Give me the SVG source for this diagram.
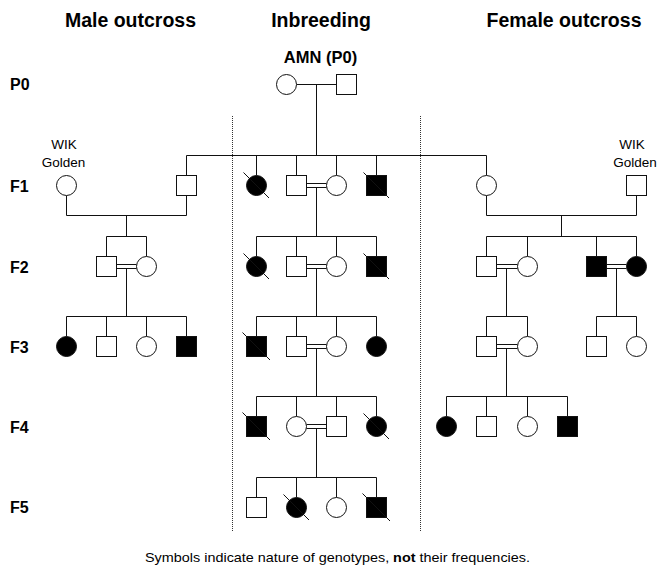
<svg xmlns="http://www.w3.org/2000/svg" width="658" height="569" viewBox="0 0 658 569">
<style>
  .bg{fill:#fff}
  .hdr{font-family:"Liberation Sans",Arial,sans-serif;font-weight:bold;font-size:19.5px;fill:#000;text-anchor:middle}
  .row{font-family:"Liberation Sans",Arial,sans-serif;font-weight:bold;font-size:16px;fill:#000}
  .amn{font-family:"Liberation Sans",Arial,sans-serif;font-weight:bold;font-size:16.5px;fill:#000;text-anchor:middle}
  .lbl{font-family:"Liberation Sans",Arial,sans-serif;font-size:13.5px;fill:#000;text-anchor:middle}
  .note{font-family:"Liberation Sans",Arial,sans-serif;font-size:13.5px;fill:#000;text-anchor:middle}
  .u{fill:#fff;stroke:#111;stroke-width:1}
  .a{fill:#000;stroke:#111;stroke-width:1}
  .sl{stroke:#111;stroke-width:1}
  .ln{stroke:#111;stroke-width:1;fill:none}
  .dot{stroke:#333;stroke-width:1;stroke-dasharray:1 1;fill:none}
</style>
<rect class="bg" x="0" y="0" width="658" height="569"/>

<g id="headers">
  <text class="hdr" x="130.5" y="26.5">Male outcross</text>
  <text class="hdr" x="321" y="26.5">Inbreeding</text>
  <text class="hdr" x="564" y="26.5">Female outcross</text>
</g>
<g id="row-labels">
  <text class="row" x="10" y="90">P0</text>
  <text class="row" x="10" y="191.5">F1</text>
  <text class="row" x="10" y="272.5">F2</text>
  <text class="row" x="10" y="352.5">F3</text>
  <text class="row" x="10" y="432.5">F4</text>
  <text class="row" x="10" y="513">F5</text>
</g>
<g id="dividers">
  <line class="dot" x1="232.5" y1="116" x2="232.5" y2="532"/>
  <line class="dot" x1="420.5" y1="116" x2="420.5" y2="532"/>
</g>

<g id="connectors">
  <line class="ln" x1="296.5" y1="84.5" x2="336.5" y2="84.5"/>
  <line class="ln" x1="316.5" y1="84.5" x2="316.5" y2="155.5"/>
  <line class="ln" x1="186.5" y1="155.5" x2="486.5" y2="155.5"/>
  <line class="ln" x1="186.5" y1="155.5" x2="186.5" y2="175.5"/>
  <line class="ln" x1="256.5" y1="155.5" x2="256.5" y2="175.5"/>
  <line class="ln" x1="296.5" y1="155.5" x2="296.5" y2="175.5"/>
  <line class="ln" x1="336.5" y1="155.5" x2="336.5" y2="175.5"/>
  <line class="ln" x1="376.5" y1="155.5" x2="376.5" y2="175.5"/>
  <line class="ln" x1="486.5" y1="155.5" x2="486.5" y2="175.5"/>

  <line class="ln" x1="66.5" y1="195.5" x2="66.5" y2="215.5"/>
  <line class="ln" x1="186.5" y1="195.5" x2="186.5" y2="215.5"/>
  <line class="ln" x1="66.5" y1="215.5" x2="186.5" y2="215.5"/>
  <line class="ln" x1="126.5" y1="215.5" x2="126.5" y2="236.5"/>
  <line class="ln" x1="106.5" y1="236.5" x2="146.5" y2="236.5"/>
  <line class="ln" x1="106.5" y1="236.5" x2="106.5" y2="256.5"/>
  <line class="ln" x1="146.5" y1="236.5" x2="146.5" y2="256.5"/>
  <line class="ln" x1="116.5" y1="264.5" x2="136.5" y2="264.5"/>
  <line class="ln" x1="116.5" y1="268.5" x2="136.5" y2="268.5"/>
  <line class="ln" x1="126.5" y1="268.5" x2="126.5" y2="316.5"/>
  <line class="ln" x1="66.5" y1="316.5" x2="186.5" y2="316.5"/>
  <line class="ln" x1="66.5" y1="316.5" x2="66.5" y2="336.5"/>
  <line class="ln" x1="106.5" y1="316.5" x2="106.5" y2="336.5"/>
  <line class="ln" x1="146.5" y1="316.5" x2="146.5" y2="336.5"/>
  <line class="ln" x1="186.5" y1="316.5" x2="186.5" y2="336.5"/>

  <line class="ln" x1="306.5" y1="183.5" x2="326.5" y2="183.5"/>
  <line class="ln" x1="306.5" y1="187.5" x2="326.5" y2="187.5"/>
  <line class="ln" x1="316.5" y1="187.5" x2="316.5" y2="236.5"/>
  <line class="ln" x1="256.5" y1="236.5" x2="376.5" y2="236.5"/>
  <line class="ln" x1="256.5" y1="236.5" x2="256.5" y2="256.5"/>
  <line class="ln" x1="296.5" y1="236.5" x2="296.5" y2="256.5"/>
  <line class="ln" x1="336.5" y1="236.5" x2="336.5" y2="256.5"/>
  <line class="ln" x1="376.5" y1="236.5" x2="376.5" y2="256.5"/>
  <line class="ln" x1="306.5" y1="264.5" x2="326.5" y2="264.5"/>
  <line class="ln" x1="306.5" y1="268.5" x2="326.5" y2="268.5"/>
  <line class="ln" x1="316.5" y1="268.5" x2="316.5" y2="316.5"/>
  <line class="ln" x1="256.5" y1="316.5" x2="376.5" y2="316.5"/>
  <line class="ln" x1="256.5" y1="316.5" x2="256.5" y2="336.5"/>
  <line class="ln" x1="296.5" y1="316.5" x2="296.5" y2="336.5"/>
  <line class="ln" x1="336.5" y1="316.5" x2="336.5" y2="336.5"/>
  <line class="ln" x1="376.5" y1="316.5" x2="376.5" y2="336.5"/>
  <line class="ln" x1="306.5" y1="344.5" x2="326.5" y2="344.5"/>
  <line class="ln" x1="306.5" y1="348.5" x2="326.5" y2="348.5"/>
  <line class="ln" x1="316.5" y1="348.5" x2="316.5" y2="396.5"/>
  <line class="ln" x1="256.5" y1="396.5" x2="376.5" y2="396.5"/>
  <line class="ln" x1="256.5" y1="396.5" x2="256.5" y2="416.5"/>
  <line class="ln" x1="296.5" y1="396.5" x2="296.5" y2="416.5"/>
  <line class="ln" x1="336.5" y1="396.5" x2="336.5" y2="416.5"/>
  <line class="ln" x1="376.5" y1="396.5" x2="376.5" y2="416.5"/>
  <line class="ln" x1="306.5" y1="424.5" x2="326.5" y2="424.5"/>
  <line class="ln" x1="306.5" y1="428.5" x2="326.5" y2="428.5"/>
  <line class="ln" x1="316.5" y1="428.5" x2="316.5" y2="477.5"/>
  <line class="ln" x1="256.5" y1="477.5" x2="376.5" y2="477.5"/>
  <line class="ln" x1="256.5" y1="477.5" x2="256.5" y2="497.5"/>
  <line class="ln" x1="296.5" y1="477.5" x2="296.5" y2="497.5"/>
  <line class="ln" x1="336.5" y1="477.5" x2="336.5" y2="497.5"/>
  <line class="ln" x1="376.5" y1="477.5" x2="376.5" y2="497.5"/>

  <line class="ln" x1="486.5" y1="195.5" x2="486.5" y2="215.5"/>
  <line class="ln" x1="636.5" y1="195.5" x2="636.5" y2="215.5"/>
  <line class="ln" x1="486.5" y1="215.5" x2="636.5" y2="215.5"/>
  <line class="ln" x1="561.5" y1="215.5" x2="561.5" y2="236.5"/>
  <line class="ln" x1="486.5" y1="236.5" x2="636.5" y2="236.5"/>
  <line class="ln" x1="486.5" y1="236.5" x2="486.5" y2="256.5"/>
  <line class="ln" x1="527.5" y1="236.5" x2="527.5" y2="256.5"/>
  <line class="ln" x1="596.5" y1="236.5" x2="596.5" y2="256.5"/>
  <line class="ln" x1="636.5" y1="236.5" x2="636.5" y2="256.5"/>
  <line class="ln" x1="496.5" y1="264.5" x2="517.5" y2="264.5"/>
  <line class="ln" x1="496.5" y1="268.5" x2="517.5" y2="268.5"/>
  <line class="ln" x1="506.5" y1="268.5" x2="506.5" y2="316.5"/>
  <line class="ln" x1="486.5" y1="316.5" x2="527.5" y2="316.5"/>
  <line class="ln" x1="486.5" y1="316.5" x2="486.5" y2="336.5"/>
  <line class="ln" x1="527.5" y1="316.5" x2="527.5" y2="336.5"/>
  <line class="ln" x1="606.5" y1="264.5" x2="626.5" y2="264.5"/>
  <line class="ln" x1="606.5" y1="268.5" x2="626.5" y2="268.5"/>
  <line class="ln" x1="616.5" y1="268.5" x2="616.5" y2="316.5"/>
  <line class="ln" x1="596.5" y1="316.5" x2="636.5" y2="316.5"/>
  <line class="ln" x1="596.5" y1="316.5" x2="596.5" y2="336.5"/>
  <line class="ln" x1="636.5" y1="316.5" x2="636.5" y2="336.5"/>
  <line class="ln" x1="496.5" y1="344.5" x2="517.5" y2="344.5"/>
  <line class="ln" x1="496.5" y1="348.5" x2="517.5" y2="348.5"/>
  <line class="ln" x1="506.5" y1="348.5" x2="506.5" y2="396.5"/>
  <line class="ln" x1="446.5" y1="396.5" x2="567.5" y2="396.5"/>
  <line class="ln" x1="446.5" y1="396.5" x2="446.5" y2="416.5"/>
  <line class="ln" x1="486.5" y1="396.5" x2="486.5" y2="416.5"/>
  <line class="ln" x1="527.5" y1="396.5" x2="527.5" y2="416.5"/>
  <line class="ln" x1="567.5" y1="396.5" x2="567.5" y2="416.5"/>
</g>

<g id="amn-label"><text class="amn" x="320.5" y="63">AMN (P0)</text></g>
<g id="p0-female"><circle class="u" cx="286.5" cy="84.5" r="10"/></g>
<g id="p0-male"><rect class="u" x="336.5" y="74.5" width="20" height="20"/></g>

<g id="m-f1-wik"><text class="lbl" x="64" y="148.5">WIK</text><text class="lbl" x="63.5" y="166.5">Golden</text><circle class="u" cx="66.5" cy="185.5" r="10"/></g>
<g id="m-f1-male"><rect class="u" x="176.5" y="175.5" width="20" height="20"/></g>
<g id="m-f2-male"><rect class="u" x="96.5" y="256.5" width="20" height="20"/></g>
<g id="m-f2-female"><circle class="u" cx="146.5" cy="266.5" r="10"/></g>
<g id="m-f3-1"><circle class="a" cx="66.5" cy="346.5" r="10"/></g>
<g id="m-f3-2"><rect class="u" x="96.5" y="336.5" width="20" height="20"/></g>
<g id="m-f3-3"><circle class="u" cx="146.5" cy="346.5" r="10"/></g>
<g id="m-f3-4"><rect class="a" x="176.5" y="336.5" width="20" height="20"/></g>

<g id="i-f1-1"><circle class="a" cx="256.5" cy="185.5" r="10"/><line class="sl" x1="243.5" y1="172.5" x2="269" y2="198"/></g>
<g id="i-f1-2"><rect class="u" x="286.5" y="175.5" width="20" height="20"/></g>
<g id="i-f1-3"><circle class="u" cx="336.5" cy="185.5" r="10"/></g>
<g id="i-f1-4"><rect class="a" x="366.5" y="175.5" width="20" height="20"/><line class="sl" x1="363.5" y1="172.5" x2="389" y2="198"/></g>
<g id="i-f2-1"><circle class="a" cx="256.5" cy="266.5" r="10"/><line class="sl" x1="243.5" y1="253.5" x2="269" y2="279"/></g>
<g id="i-f2-2"><rect class="u" x="286.5" y="256.5" width="20" height="20"/></g>
<g id="i-f2-3"><circle class="u" cx="336.5" cy="266.5" r="10"/></g>
<g id="i-f2-4"><rect class="a" x="366.5" y="256.5" width="20" height="20"/><line class="sl" x1="363.5" y1="253.5" x2="389" y2="279"/></g>
<g id="i-f3-1"><rect class="a" x="246.5" y="336.5" width="20" height="20"/><line class="sl" x1="242.5" y1="332.5" x2="270" y2="360"/></g>
<g id="i-f3-2"><rect class="u" x="286.5" y="336.5" width="20" height="20"/></g>
<g id="i-f3-3"><circle class="u" cx="336.5" cy="346.5" r="10"/></g>
<g id="i-f3-4"><circle class="a" cx="376.5" cy="346.5" r="10"/></g>
<g id="i-f4-1"><rect class="a" x="246.5" y="416.5" width="20" height="20"/><line class="sl" x1="242.5" y1="412.5" x2="270" y2="440"/></g>
<g id="i-f4-2"><circle class="u" cx="296.5" cy="426.5" r="10"/></g>
<g id="i-f4-3"><rect class="u" x="326.5" y="416.5" width="20" height="20"/></g>
<g id="i-f4-4"><circle class="a" cx="376.5" cy="426.5" r="10"/><line class="sl" x1="363.5" y1="413.5" x2="389" y2="439"/></g>
<g id="i-f5-1"><rect class="u" x="246.5" y="497.5" width="20" height="20"/></g>
<g id="i-f5-2"><circle class="a" cx="296.5" cy="507.5" r="10"/><line class="sl" x1="283.5" y1="494.5" x2="309" y2="520"/></g>
<g id="i-f5-3"><circle class="u" cx="336.5" cy="507.5" r="10"/></g>
<g id="i-f5-4"><rect class="a" x="366.5" y="497.5" width="20" height="20"/><line class="sl" x1="362.5" y1="493.5" x2="390" y2="521"/></g>

<g id="f-f1-female"><circle class="u" cx="486.5" cy="185.5" r="10"/></g>
<g id="f-f1-wik"><text class="lbl" x="632" y="148.5">WIK</text><text class="lbl" x="635" y="166.5">Golden</text><rect class="u" x="626.5" y="175.5" width="20" height="20"/></g>
<g id="f-f2-1"><rect class="u" x="476.5" y="256.5" width="20" height="20"/></g>
<g id="f-f2-2"><circle class="u" cx="527.5" cy="266.5" r="10"/></g>
<g id="f-f2-3"><rect class="a" x="586.5" y="256.5" width="20" height="20"/></g>
<g id="f-f2-4"><circle class="a" cx="636.5" cy="266.5" r="10"/></g>
<g id="f-f3-1"><rect class="u" x="476.5" y="336.5" width="20" height="20"/></g>
<g id="f-f3-2"><circle class="u" cx="527.5" cy="346.5" r="10"/></g>
<g id="f-f3-3"><rect class="u" x="586.5" y="336.5" width="20" height="20"/></g>
<g id="f-f3-4"><circle class="u" cx="636.5" cy="346.5" r="10"/></g>
<g id="f-f4-1"><circle class="a" cx="446.5" cy="426.5" r="10"/></g>
<g id="f-f4-2"><rect class="u" x="476.5" y="416.5" width="20" height="20"/></g>
<g id="f-f4-3"><circle class="u" cx="527.5" cy="426.5" r="10"/></g>
<g id="f-f4-4"><rect class="a" x="557.5" y="416.5" width="20" height="20"/></g>

<g id="footnote">
  <text class="note" x="337.5" y="562" textLength="385" lengthAdjust="spacingAndGlyphs">Symbols indicate nature of genotypes, <tspan font-weight="bold">not</tspan> their frequencies.</text>
</g>
</svg>
